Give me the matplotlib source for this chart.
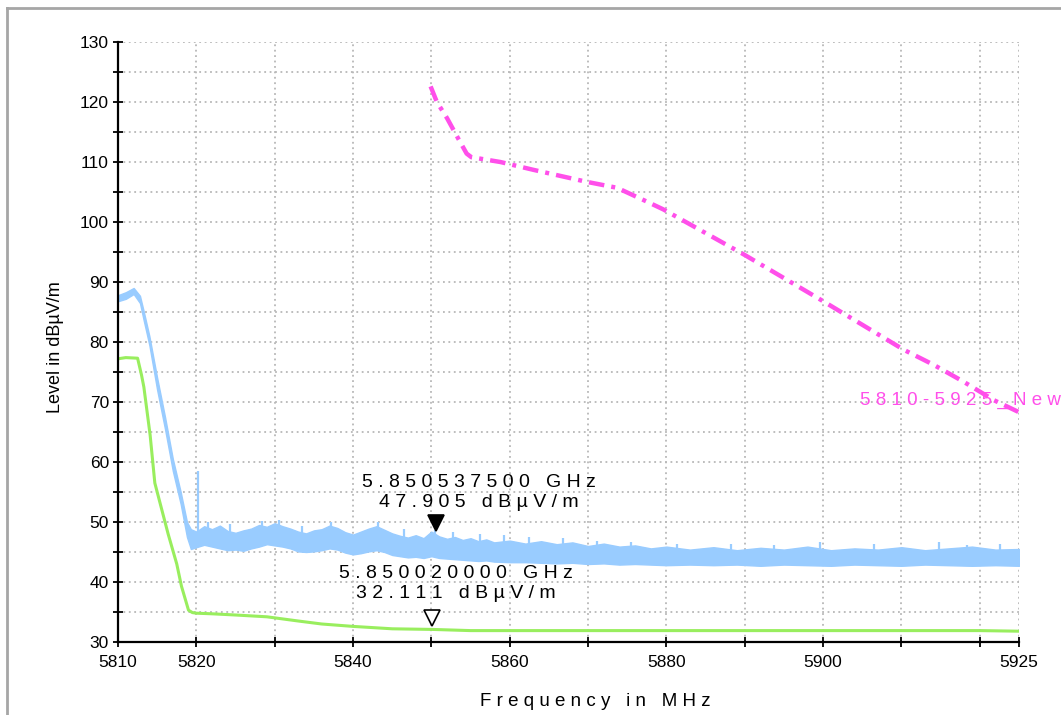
import matplotlib
matplotlib.use("Agg")
import matplotlib.pyplot as plt
from matplotlib.lines import Line2D
from matplotlib.ticker import FixedLocator, FixedFormatter, MultipleLocator
import matplotlib.transforms as mtransforms

plt.rcParams['font.family'] = ['Liberation Sans', 'DejaVu Sans']

# ---------------- data ----------------
# Peak trace (light blue): noisy band given by lower / upper envelope
blue_freq = [5810, 5811, 5812, 5812.8, 5813.3, 5814, 5815, 5816, 5817, 5818, 5818.8,
             5819.3, 5820, 5821, 5822, 5823, 5824, 5825, 5826, 5827, 5828, 5829, 5830,
             5831, 5832, 5833, 5834, 5835, 5836, 5837, 5838, 5839, 5840, 5841, 5842,
             5843, 5844, 5845, 5846, 5847, 5848, 5849, 5850, 5851, 5852, 5853, 5854,
             5855, 5856, 5857, 5858, 5860, 5862, 5864, 5866, 5868, 5870, 5872, 5874,
             5876, 5878, 5880, 5883, 5886, 5889, 5892, 5895, 5898, 5901, 5904, 5907,
             5910, 5913, 5916, 5919, 5922, 5925]
blue_lo = [86.8, 87.2, 88.0, 86.5, 83.5, 79.5, 72.0, 65.5, 58.5, 53.0, 47.5,
           45.5, 45.8, 46.2, 45.9, 45.6, 45.3, 45.4, 45.2, 45.6, 45.9, 46.3, 46.1,
           45.9, 45.6, 45.1, 45.0, 45.1, 45.3, 45.6, 45.4, 44.9, 44.6, 44.8, 45.1,
           45.3, 45.0, 44.5, 44.3, 44.1, 44.2, 44.0, 44.3, 44.0, 43.9, 43.8, 43.7,
           43.6, 43.5, 43.6, 43.4, 43.3, 43.3, 43.2, 43.1, 43.2, 43.0, 43.1, 42.9,
           43.0, 42.9, 42.8, 42.9, 42.8, 42.9, 42.7, 42.9, 42.8, 42.7, 42.9, 42.8,
           42.7, 42.9, 42.8, 42.7, 42.8, 42.7]
blue_hi = [87.8, 88.3, 89.0, 87.7, 85.0, 81.0, 74.0, 67.5, 60.5, 55.0, 50.0,
           48.8, 48.4, 49.3, 48.8, 49.4, 48.5, 48.2, 48.6, 48.9, 49.5, 49.2, 49.8,
           49.3, 48.9, 48.4, 48.1, 48.6, 48.8, 49.4, 49.0, 48.3, 47.9, 48.4, 48.9,
           49.3, 48.7, 48.1, 47.7, 47.4, 47.8, 47.3, 48.4, 47.6, 47.2, 47.5, 47.0,
           47.3, 46.8, 47.1, 46.6, 46.9, 46.4, 46.8, 46.3, 46.6, 46.0, 46.4, 45.9,
           46.1, 45.6, 45.9, 45.4, 45.8, 45.3, 45.7, 45.4, 45.9, 45.3, 45.6, 45.4,
           45.8, 45.3, 45.6, 45.9, 45.4, 45.5]
# isolated peaks sticking out of the blue band
spike_freq = [5820.25, 5821.5, 5824.3, 5828.4, 5830.6, 5833.5, 5837.2, 5843.2, 5846.5,
              5850.5, 5852.8, 5856.2, 5859.3, 5862.5, 5866.8, 5871.2, 5875.5, 5881.4,
              5888.2, 5893.7, 5899.6, 5906.5, 5914.8, 5918.4, 5922.6]
spike_lo = [47.0, 47.5, 47.0, 47.5, 48.0, 47.0, 47.5, 47.5, 46.5,
            46.5, 46.0, 45.5, 45.5, 45.0, 45.0, 44.5, 44.5, 44.3,
            44.3, 44.3, 44.3, 44.3, 44.3, 44.3, 44.3]
spike_hi = [58.5, 50.0, 49.6, 50.2, 50.4, 49.3, 50.0, 50.0, 48.9,
            48.6, 48.3, 48.0, 47.8, 47.5, 47.3, 46.9, 46.6, 46.4,
            46.3, 46.2, 46.6, 46.3, 46.6, 46.2, 46.3]

# Average trace (green)
green_freq = [5810, 5811, 5812.5, 5813.0, 5813.3, 5814.1, 5814.7, 5815.6, 5816.4, 5817.5,
              5818.1, 5819, 5819.5, 5820, 5822, 5825, 5829, 5833, 5836, 5840, 5845,
              5850, 5855, 5860, 5870, 5880, 5890, 5900, 5910, 5920, 5925]
green_level = [77.2, 77.4, 77.3, 74.5, 72.5, 64.5, 56.5, 52.0, 48.0, 43.0,
               39.3, 35.3, 34.9, 34.8, 34.7, 34.5, 34.2, 33.5, 33.0, 32.6, 32.2,
               32.1, 31.9, 31.9, 31.9, 31.9, 31.9, 31.9, 31.9, 31.9, 31.8]

# Limit line (magenta)
limit_freq = [5849.9, 5850.7, 5852.0, 5853.3, 5854.5, 5855.1, 5858.8, 5863, 5866.4,
              5869.8, 5873.7, 5877.5, 5879.6, 5890, 5900, 5910.3, 5914.1, 5917.9,
              5921.8, 5925]
limit_level = [122.6, 120.0, 117.3, 114.2, 111.4, 110.8, 110.0, 108.7, 107.7,
               106.7, 105.7, 103.4, 102.1, 94.5, 86.8, 78.7, 76.2, 73.4,
               70.3, 68.3]
limit_name = "5810-5925_New"
limit_label_pos = (5904.7, 70.2)

# Markers
marker_freq = [5850.5375, 5850.02]
marker_level = [47.905, 32.111]
marker_text = ["5.850537500 GHz\n47.905 dBµV/m", "5.850020000 GHz\n32.111 dBµV/m"]

x_major = [5810, 5820, 5840, 5860, 5880, 5900, 5925]
x_minor = [5830, 5850, 5870, 5890, 5910, 5920]
y_range = (30, 130)
x_range = (5810, 5925)

BLUE = '#99CCFF'
GREEN = '#99EE5E'
MAGENTA = '#FF4FEA'


def spaced(s):
    return "\n".join(" ".join(line) for line in s.split("\n"))


# ---------------- figure ----------------
W, H = 1061, 715
fig = plt.figure(figsize=(W / 100, H / 100), dpi=100)
ax = fig.add_axes([118 / W, 1 - 642 / H, (1019 - 118) / W, (642 - 42) / H])

ax.fill_between(blue_freq, blue_lo, blue_hi, color=BLUE, lw=1.0, edgecolor=BLUE, zorder=3)
ax.vlines(spike_freq, spike_lo, spike_hi, color=BLUE, lw=1.6, zorder=3)
ax.plot(green_freq, green_level, color=GREEN, lw=2.2, zorder=4)
ax.plot(limit_freq, limit_level, color=MAGENTA, lw=3.2, zorder=5,
        dashes=(3.5, 1.6, 0.9, 1.6), solid_capstyle='butt')

ax.text(limit_label_pos[0], limit_label_pos[1], spaced(limit_name), color=MAGENTA,
        fontsize=13.5, ha='left', va='center', clip_on=False, zorder=6)

# markers: tip of triangle just above the measured value
ms = 11
for i, (f, lv) in enumerate(zip(marker_freq, marker_level)):
    off = mtransforms.offset_copy(ax.transData, fig=fig, x=0, y=ms / 2 + 3, units='points')
    ax.plot([f], [lv], marker='v', ms=ms, transform=off, zorder=7,
            markerfacecolor='black' if i == 0 else 'white',
            markeredgecolor='black', markeredgewidth=1.2, linestyle='none')

text_offsets = [(43, 42), (24, 46)]
for f, lv, t, (dx, dy) in zip(marker_freq, marker_level, marker_text, text_offsets):
    ax.annotate(spaced(t), xy=(f, lv), xytext=(dx, dy), textcoords='offset pixels',
                ha='center', va='center', multialignment='center', fontsize=14,
                linespacing=1.25, color='black', zorder=8)

# axes styling
ax.set_xlim(*x_range)
ax.set_ylim(*y_range)
ax.xaxis.set_major_locator(FixedLocator(x_major))
ax.xaxis.set_major_formatter(FixedFormatter([str(v) for v in x_major]))
ax.xaxis.set_minor_locator(FixedLocator(x_minor))
ax.yaxis.set_major_locator(MultipleLocator(10))
ax.yaxis.set_minor_locator(MultipleLocator(5))

for side in ['top', 'right']:
    ax.spines[side].set_visible(False)
for side in ['left', 'bottom']:
    ax.spines[side].set_linewidth(1.6)
    ax.spines[side].set_color('black')
    ax.spines[side].set_zorder(9)

ax.tick_params(which='both', direction='inout', length=7, width=1.3, color='black')
ax.tick_params(axis='both', which='major', labelsize=12.5, pad=3)
ax.tick_params(axis='x', which='major', pad=6)

ax.grid(True, which='both', color='#b8b8b8', linestyle=(0, (1, 2)), linewidth=1.3, zorder=1)
ax.set_axisbelow(True)

fig.text(55 / W, 1 - 347 / H, "Level in dBµV/m", rotation=90, ha='center', va='center',
         fontsize=13)
fig.text(595 / W, 1 - 702 / H, spaced("Frequency in MHz"), ha='center', va='center',
         fontsize=13.5)

# outer frame (cropped on right and bottom)
fig.add_artist(Line2D([7 / W, 1], [1 - 8 / H, 1 - 8 / H], transform=fig.transFigure,
                      color='#a6a6a6', lw=2))
fig.add_artist(Line2D([7 / W, 7 / W], [0, 1 - 8 / H], transform=fig.transFigure,
                      color='#a6a6a6', lw=2))

fig.savefig('out.png', dpi=100)
